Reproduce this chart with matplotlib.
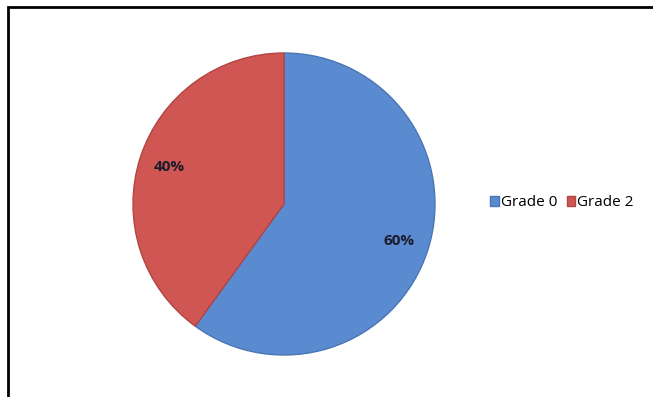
import matplotlib
matplotlib.use("Agg")
import matplotlib.pyplot as plt
from matplotlib.patches import Rectangle

labels = ["Grade 0", "Grade 2"]
values = [60, 40]
colors = ["#5A8AD0", "#CF5653"]
edges = ["#4A76B5", "#B04542"]

fig = plt.figure(figsize=(6.53, 3.97), dpi=100)
W, H = 653, 397
cx, cy, r = 284, 204, 151
ax = fig.add_axes([(cx - r) / W, (H - cy - r) / H, 2 * r / W, 2 * r / H])
wedges, texts, autotexts = ax.pie(
    values, colors=colors, startangle=90, counterclock=False,
    autopct="%d%%", pctdistance=0.8,
    wedgeprops=dict(linewidth=1.0),
    textprops=dict(fontsize=11, fontweight="bold", color="#1B1B2B", family=["Open Sans", "DejaVu Sans"]),
)
for w, ec in zip(wedges, edges):
    w.set_edgecolor(ec)
ax.set_aspect("auto")
ax.set_xlim(-1.0, 1.0)
ax.set_ylim(-1.0, 1.0)
ax.axis("off")

leg = fig.legend(
    wedges, labels, loc="center", bbox_to_anchor=(562 / W, 1 - 203 / H),
    ncol=2, frameon=False, handlelength=0.55, handleheight=0.55,
    handletextpad=0.15, columnspacing=0.6,
    prop=dict(family=["Open Sans", "DejaVu Sans"], size=11),
)
for h, ec in zip(leg.legend_handles, edges):
    h.set_edgecolor(ec)

fig.add_artist(Rectangle((7.5 / W, -0.1), 1.2, 1 - 7.5 / H + 0.1, transform=fig.transFigure,
                         fill=False, edgecolor="black", linewidth=2))
fig.savefig("out.png", dpi=100)
